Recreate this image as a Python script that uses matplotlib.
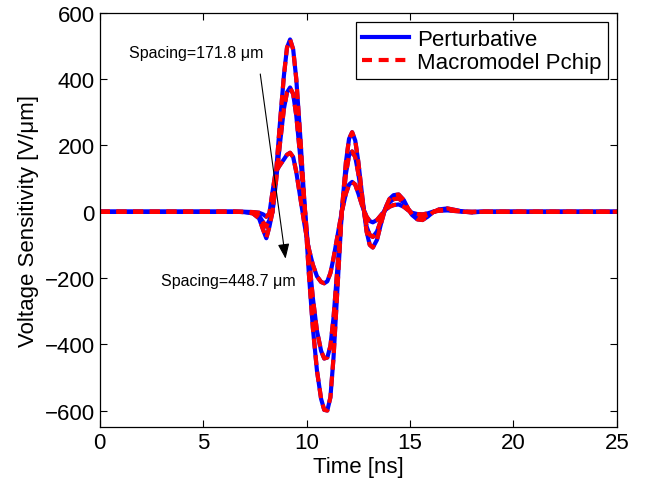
import matplotlib.pyplot as plt

plt.rcParams['font.family'] = ['Liberation Sans', 'DejaVu Sans']

# time axis in ns
t = [0, 6.5, 7.0, 7.4, 7.7, 7.9, 8.05, 8.2, 8.35, 8.5, 8.7, 8.9, 9.05, 9.2, 9.35,
     9.5, 9.7, 9.9, 10.1, 10.3, 10.5, 10.7, 10.85, 11.0, 11.15, 11.3, 11.5, 11.7,
     11.9, 12.05, 12.2, 12.35, 12.5, 12.7, 12.9, 13.05, 13.2, 13.4, 13.6, 13.8,
     14.0, 14.2, 14.45, 14.7, 14.9, 15.1, 15.35, 15.6, 15.85, 16.1, 16.4, 16.8,
     17.2, 17.6, 18.0, 18.5, 19.0, 25]

# spacing = 171.8 um (largest response)
v_large = [0, 0, -1, -5, -20, -55, -80, -45, 0, 100, 260, 410, 495, 520, 490,
           400, 220, 20, -180, -350, -480, -565, -598, -600, -560, -440, -220, 0,
           150, 220, 240, 215, 150, 40, -60, -100, -108, -85, -35, 10,
           38, 50, 52, 35, 10, -10, -23, -25, -15, -2, 7, 10,
           5, 0, -2, 0, 0, 0]

# intermediate spacing
v_mid = [0, 0, -1, -3, -12, -32, -45, -25, 0, 80, 200, 310, 360, 375, 355,
         290, 160, 20, -130, -260, -360, -420, -443, -440, -405, -320, -160, 0,
         115, 170, 182, 165, 115, 30, -45, -70, -76, -60, -25, 8,
         28, 38, 40, 27, 8, -7, -15, -16, -10, -1, 5, 7,
         4, 0, -1, 0, 0, 0]

# spacing = 448.7 um (smallest response)
v_small = [0, 0, 0, -1, -3, -8, -15, -5, 60, 120, 140, 158, 172, 178, 165,
           120, 40, -40, -110, -160, -195, -212, -216, -210, -185, -140, -70, 0,
           55, 82, 90, 82, 55, 15, -15, -28, -32, -25, -10, 5,
           15, 20, 22, 15, 5, -3, -7, -8, -5, 0, 3, 4,
           2, 0, 0, 0, 0, 0]

curves = [v_large, v_mid, v_small]

fig = plt.figure(figsize=(6.48, 4.81), dpi=100)
ax = fig.add_axes([0.154, 0.110, 0.798, 0.861])

for i, v in enumerate(curves):
    ax.plot(t, v, color='#0000ff', lw=3, solid_joinstyle='round',
            label='Perturbative' if i == 0 else None)
for i, v in enumerate(curves):
    ax.plot(t, v, color='#ff0000', lw=3, ls=(0, (2.4, 1.6)),
            label='Macromodel Pchip' if i == 0 else None)

ax.set_xlim(0, 25)
ax.set_ylim(-650, 600)
ax.set_xticks([0, 5, 10, 15, 20, 25])
ax.set_yticks([-600, -400, -200, 0, 200, 400, 600])
ax.tick_params(direction='in', length=5, width=0.8, labelsize=16,
               top=True, right=True)
for s in ax.spines.values():
    s.set_linewidth(0.9)

ax.set_xlabel('Time [ns]', fontsize=16, labelpad=2)
ax.set_ylabel('Voltage Sensitivity [V/\u03bcm]', fontsize=16, labelpad=4)

ax.annotate('', xy=(9.0, -150), xytext=(7.74, 424),
            arrowprops=dict(arrowstyle='-|>,head_length=0.9,head_width=0.35',
                            color='black', lw=0.8))
ax.text(1.4, 482, 'Spacing=171.8 \u03bcm', fontsize=11.5, va='center')
ax.text(2.95, -209, 'Spacing=448.7 \u03bcm', fontsize=11.5, va='center')

leg = ax.legend(loc='upper right', fontsize=16, fancybox=False,
                edgecolor='black', framealpha=1, borderaxespad=0.4,
                handlelength=2.1, handletextpad=0.35, borderpad=0.3,
                labelspacing=0.1)
leg.get_frame().set_linewidth(0.9)

fig.savefig('out.png', dpi=100)
